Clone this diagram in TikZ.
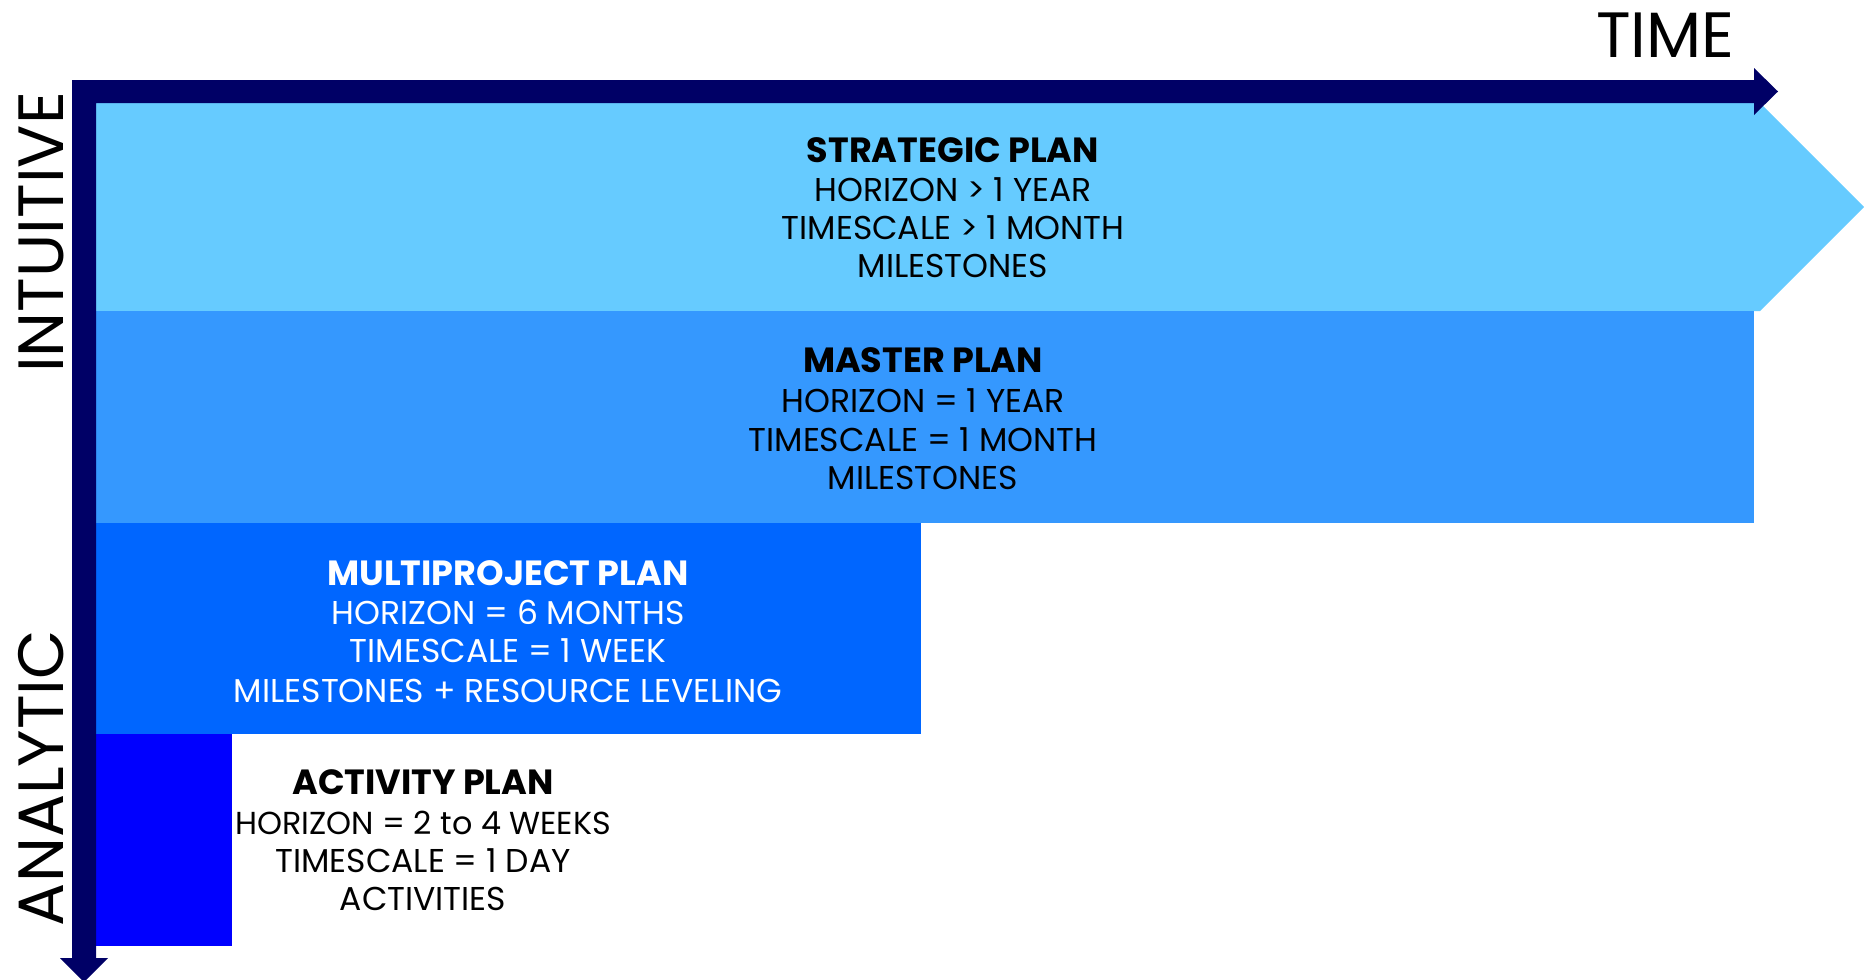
\documentclass[tikz,border=0pt]{standalone}
\usepackage{fontspec}
\setmainfont{Poppins}
\definecolor{navy}{RGB}{0,0,102}
\definecolor{cstrat}{RGB}{102,203,255}
\definecolor{cmaster}{RGB}{53,152,254}
\definecolor{cmulti}{RGB}{0,102,255}
\definecolor{cact}{RGB}{0,0,255}
\tikzset{
  ttl/.style={anchor=base, inner sep=0pt, font=\fontsize{35}{38}\selectfont\bfseries},
  txt/.style={anchor=base, inner sep=0pt, font=\fontsize{33}{38}\selectfont},
  axlabel/.style={anchor=base, inner sep=0pt, font=\fontsize{64}{70}\selectfont},
}
\begin{document}
\begin{tikzpicture}[x=1pt,y=-1pt]
\useasboundingbox (0,0) rectangle (1864,980);
% bands
\fill[cstrat] (96,103) -- (1760,103) -- (1864,207) -- (1760,311) -- (96,311) -- cycle;
\fill[cmaster] (96,311) rectangle (1754,523);
\fill[cmulti] (96,523) rectangle (921,734);
\fill[cact] (96,734) rectangle (232,946);
% axes
\fill[navy] (72,80) -- (1754,80) -- (1754,68) -- (1778,91.5) -- (1754,115) -- (1754,103)
  -- (96,103) -- (96,958) -- (108,958) -- (84,982) -- (60,958) -- (72,958) -- cycle;
% axis labels
\node[axlabel] (time) at (1665.5,57) {TIME};
\node[axlabel, rotate=90] (intuitive) at (63,232.5) {INTUITIVE};
\node[axlabel, rotate=90] (analytic) at (63,778) {ANALYTIC};
% strategic
\node[ttl] (s1) at (953,162) {STRATEGIC PLAN};
\node[txt] (s2) at (953,201) {HORIZON > 1 YEAR};
\node[txt] (s3) at (953,239) {TIMESCALE > 1 MONTH};
\node[txt] (s4) at (953,277) {MILESTONES};
% master
\node[ttl] (m1) at (923,372) {MASTER PLAN};
\node[txt] (m2) at (923,412) {HORIZON = 1 YEAR};
\node[txt] (m3) at (923,451) {TIMESCALE = 1 MONTH};
\node[txt] (m4) at (923,489) {MILESTONES};
% multiproject
\node[ttl, text=white] (p1) at (508,585) {MULTIPROJECT PLAN};
\node[txt, text=white] (p2) at (508,624) {HORIZON = 6 MONTHS};
\node[txt, text=white] (p3) at (508,662) {TIMESCALE = 1 WEEK};
\node[txt, text=white] (p4) at (508,702) {MILESTONES + RESOURCE LEVELING};
% activity
\node[ttl] (a1) at (423,794) {ACTIVITY PLAN};
\node[txt, font=\fontsize{31.8}{38}\selectfont] (a2) at (423,834) {HORIZON = 2 to 4 WEEKS};
\node[txt] (a3) at (423,872) {TIMESCALE = 1 DAY};
\node[txt] (a4) at (423,910) {ACTIVITIES};
\end{tikzpicture}
\end{document}
